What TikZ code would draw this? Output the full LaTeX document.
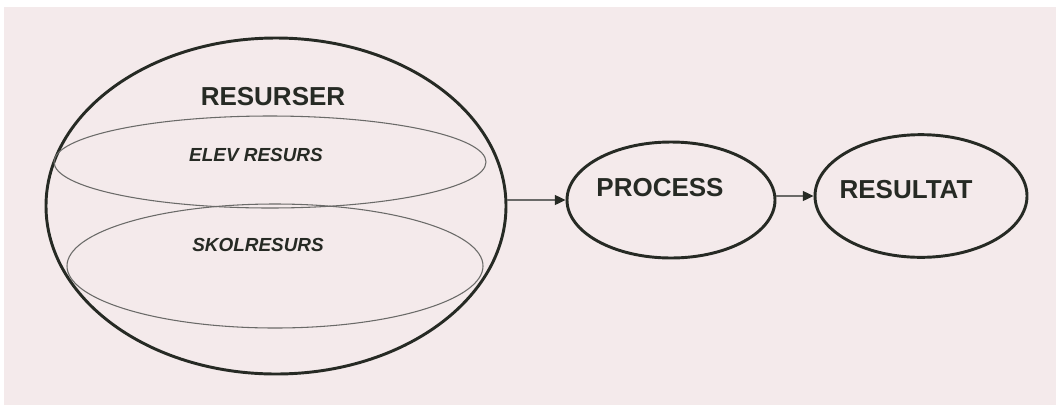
\documentclass[tikz,border=0pt]{standalone}
\usepackage{fontspec}
\setmainfont{Liberation Sans}
\usetikzlibrary{shapes.geometric,arrows.meta}
\definecolor{paper}{HTML}{F4EAEB}
\definecolor{ink}{HTML}{262A24}
\definecolor{thin}{HTML}{6A6A68}
\tikzset{
  thick ellipse/.style={draw=ink, line width=2.2pt, ellipse, inner sep=0pt},
  thin ellipse/.style={draw=thin, line width=0.8pt, ellipse, inner sep=0pt},
  big label/.style={text=ink, font=\fontsize{19.5pt}{22pt}\selectfont\bfseries, inner sep=0pt},
  small label/.style={text=ink, font=\fontsize{14.2pt}{16pt}\selectfont\bfseries\itshape, inner sep=0pt},
  arr/.style={draw=thin, line width=0.8pt, -{Triangle[length=8pt,width=7.5pt,fill=ink,color=ink]}}
}
\begin{document}
\begin{tikzpicture}[x=0.75pt,y=-0.75pt]
\useasboundingbox (0,0) rectangle (1056,408);
\fill[white] (0,0) rectangle (1056,408);
\fill[paper] (4,7) rectangle (1056,405);
% nodes
\node[thick ellipse, minimum width=345pt, minimum height=252pt] (big) at (276,206) {};
\node[thin ellipse, minimum width=324pt, minimum height=69pt] (elev) at (270,162) {};
\node[thin ellipse, minimum width=312pt, minimum height=93pt] (skol) at (275,266) {};
\node[thick ellipse, minimum width=156pt, minimum height=87pt] (proc) at (671,200) {};
\node[thick ellipse, minimum width=159pt, minimum height=92pt] (res) at (921,196) {};
% labels
\node[big label] (tres) at (273,97) {RESURSER};
\node[small label] (telev) at (256,155) {ELEV RESURS};
\node[small label] (tskol) at (258,245) {SKOLRESURS};
\node[big label] (tproc) at (660,188) {PROCESS};
\node[big label] (tresult) at (906,190) {RESULTAT};
% connectors
\draw[arr] (proc.west -| big.east) -- (proc.west);
\draw[arr] (res.west -| proc.east) -- (res.west);
\end{tikzpicture}
\end{document}
